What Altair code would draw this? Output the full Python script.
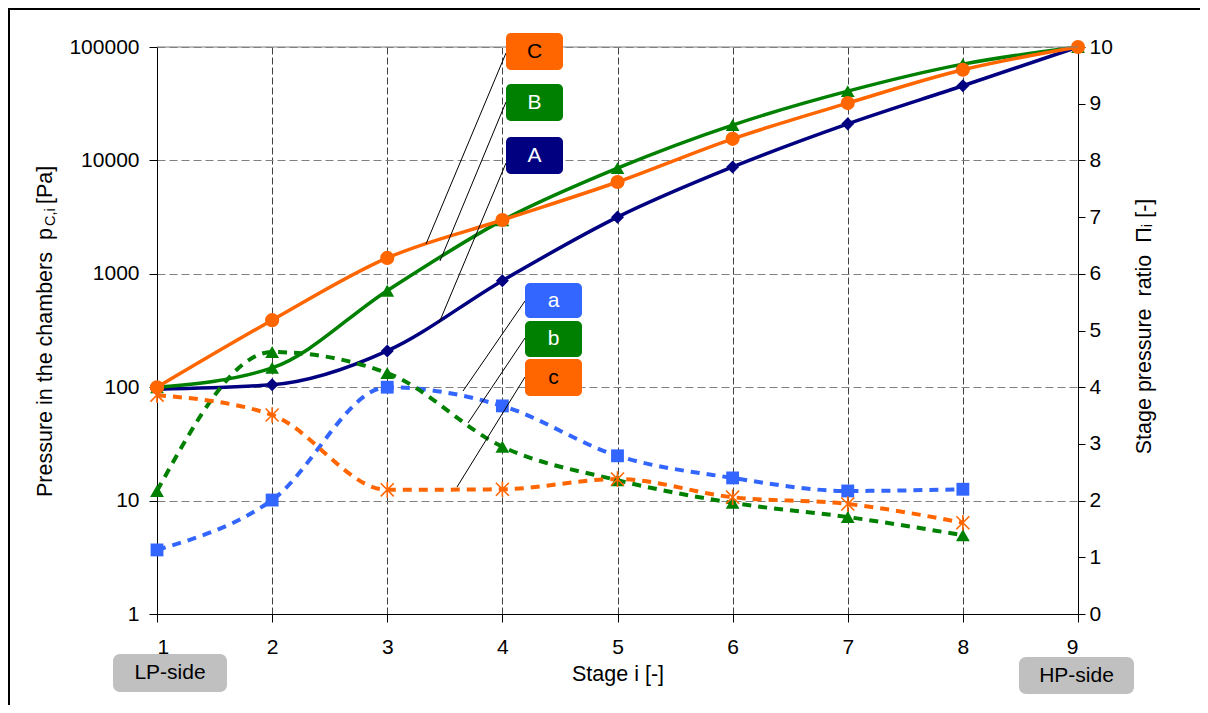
import altair as alt
import pandas as pd

# ---------------- data ----------------
stages = [1, 2, 3, 4, 5, 6, 7, 8, 9]
pressure_A = [96, 105, 209, 870, 3160, 8750, 21000, 45500, 100000]
pressure_B = [100, 148, 710, 2960, 8550, 20500, 40800, 70600, 100000]
pressure_C = [100, 390, 1380, 2980, 6450, 15500, 32000, 63000, 100000]

ratio_stages = [1, 2, 3, 4, 5, 6, 7, 8]
ratio_a = [1.13, 2.01, 4.00, 3.67, 2.79, 2.40, 2.17, 2.20]
ratio_b = [2.17, 4.62, 4.25, 2.95, 2.36, 1.96, 1.71, 1.39]
ratio_c = [3.86, 3.51, 2.19, 2.20, 2.38, 2.06, 1.94, 1.61]

left_ticks = [1, 10, 100, 1000, 10000, 100000]
right_ticks = [0, 1, 2, 3, 4, 5, 6, 7, 8, 9, 10]

# ---------------- styles / layout ----------------
NAVY, GREEN, ORANGE, BLUE, GREY = "#000080", "#008000", "#FF6600", "#3366FF", "#C0C0C0"
FONT = "Liberation Sans"
FS = 21
TFS = 21.5
NB = "\u00a0"
W, H = 921, 567
PAD_L, PAD_T = 149, 39
PAD_R = 1192 - PAD_L - W
PAD_B = 697 - PAD_T - H

ASTERISK = "M-1,-1L1,1M-1,1L1,-1M0,-1.2L0,1.2"

x_enc = alt.X(
    "stage:Q",
    scale=alt.Scale(domain=[1, 9], nice=False, zero=False),
    axis=alt.Axis(values=stages, format="d", title="Stage i [-]", grid=True,
                  gridColor="#404040", gridDash=[7, 3], gridWidth=1,
                  tickSize=8, labelPadding=14, titleY=66, titleBaseline="alphabetic",
                  titleFontSize=TFS),
)
y_left = alt.Y(
    "value:Q",
    scale=alt.Scale(type="log", domain=[1, 100000], nice=False),
    axis=alt.Axis(orient="left", values=left_ticks, format="d", title=None, grid=True,
                  gridColor="#808080", gridDash=[8, 4], gridWidth=1,
                  tickSize=8, labelPadding=10),
)
y_right = alt.Y(
    "value:Q",
    scale=alt.Scale(domain=[0, 10], nice=False, zero=True),
    axis=alt.Axis(orient="right", values=right_ticks, format="d", grid=False,
                  title=f"Stage pressure{NB}{NB}ratio{NB}{NB}Πᵢ [-]", titleAngle=270,
                  titleX=66, titleY=279, titleAlign="center", titleBaseline="middle",
                  titleFontSize=TFS, tickSize=7, labelPadding=4),
)

def frame(xs, ys):
    return pd.DataFrame({"stage": xs, "value": ys})

solid = [("A", pressure_A, NAVY, "diamond", 170),
         ("B", pressure_B, GREEN, "triangle-up", 190),
         ("C", pressure_C, ORANGE, "circle", 200)]
dashed = [("a", ratio_a, BLUE, "square", 165, True),
          ("b", ratio_b, GREEN, "triangle-up", 190, True),
          ("c", ratio_c, ORANGE, ASTERISK, 170, False)]

solid_layers = []
for name, vals, col, shp, sz in solid:
    base = alt.Chart(frame(stages, vals)).encode(x=x_enc, y=y_left)
    solid_layers.append(base.mark_line(color=col, strokeWidth=3.5, interpolate="monotone"))
for name, vals, col, shp, sz in solid:
    base = alt.Chart(frame(stages, vals)).encode(x=x_enc, y=y_left)
    solid_layers.append(base.mark_point(shape=shp, size=sz, filled=True, color=col, opacity=1))

dashed_layers = []
for name, vals, col, shp, sz, filled in dashed:
    base = alt.Chart(frame(ratio_stages, vals)).encode(x=x_enc, y=y_right)
    dashed_layers.append(base.mark_line(color=col, strokeWidth=4, strokeDash=[9, 7],
                                        interpolate="monotone"))
for name, vals, col, shp, sz, filled in dashed:
    base = alt.Chart(frame(ratio_stages, vals)).encode(x=x_enc, y=y_right)
    if filled:
        dashed_layers.append(base.mark_point(shape=shp, size=sz, filled=True, color=col, opacity=1))
    else:
        dashed_layers.append(base.mark_point(shape=shp, size=sz, filled=False, color=col,
                                             strokeWidth=1.6, opacity=1))

# ---------------- annotations (pixel positions in plot area) ----------------
one = pd.DataFrame({"k": [0]})

def rule(x1, y1, x2, y2, color="black", width=1):
    return alt.Chart(one).mark_rule(color=color, strokeWidth=width).encode(
        x=alt.value(x1), y=alt.value(y1), x2=alt.value(x2), y2=alt.value(y2))

def bar(x1, y1, x2, y2, fill):
    return alt.Chart(one).mark_rect(fill=fill).encode(
        x=alt.value(x1), x2=alt.value(x2), y=alt.value(y1), y2=alt.value(y2))

def box(x1, y1, x2, y2, fill, label, tcolor, radius=5):
    r = alt.Chart(one).mark_rect(fill=fill, cornerRadius=radius).encode(
        x=alt.value(x1), x2=alt.value(x2), y=alt.value(y1), y2=alt.value(y2))
    t = alt.Chart(one).mark_text(text=label, color=tcolor, fontSize=FS, font=FONT,
                                 align="center", baseline="middle").encode(
        x=alt.value((x1 + x2) / 2), y=alt.value((y1 + y2) / 2))
    return [r, t]

def vtext(label, x, y, size):
    return alt.Chart(one).mark_text(text=label, angle=270, align="left", baseline="middle",
                                    fontSize=size, font=FONT, color="black").encode(
        x=alt.value(x), y=alt.value(y))

annotations = []
# top plot border (solid grey) and figure frame (left and top edges)
annotations.append(bar(0, -0.5, W, 0.5, "#808080"))
annotations.append(bar(-PAD_L, -PAD_T, W + PAD_R + 30, -PAD_T + 2, "black"))
annotations.append(bar(-PAD_L, -PAD_T, -PAD_L + 2, H + PAD_B, "black"))

# leader lines
annotations += [rule(349, 6, 269, 197), rule(349, 55, 283, 214), rule(349, 116, 282, 276),
                rule(368, 254, 306, 344), rule(368, 291, 311, 376), rule(368, 330, 300, 440)]
# label boxes
annotations += box(349, -14, 406, 23, ORANGE, "C", "black")
annotations += box(349, 37, 406, 74, GREEN, "B", "white")
annotations += box(349, 90, 406, 127, NAVY, "A", "white")
annotations += box(368, 236, 425, 271, BLUE, "a", "white")
annotations += box(368, 274, 425, 310, GREEN, "b", "white")
annotations += box(368, 312, 425, 349, ORANGE, "c", "black")
annotations += box(-44, 607, 70, 645, GREY, "LP-side", "black", radius=7)
annotations += box(862, 610, 977, 647, GREY, "HP-side", "black", radius=7)

# left axis title with subscript
annotations.append(vtext(f"Pressure in the chambers{NB}{NB}p", -111.5, 450, TFS))
annotations.append(vtext("C,i", -106, 179, 14.5))
annotations.append(vtext("[Pa]", -111.5, 157, TFS))

chart = alt.layer(
    alt.layer(*solid_layers),
    alt.layer(*dashed_layers),
    *annotations,
).resolve_scale(y="independent").properties(
    width=W, height=H,
    padding={"left": PAD_L, "top": PAD_T, "right": PAD_R, "bottom": PAD_B},
    autosize=alt.AutoSizeParams(type="none"),
    background="white",
).configure_axis(
    labelFont=FONT, titleFont=FONT, labelFontSize=FS, titleFontSize=FS,
    titleFontWeight="normal", labelColor="black", titleColor="black",
    domainColor="black", tickColor="black", domainWidth=1, tickWidth=1,
).configure_view(stroke=None)

chart.save("out.html", embed_options={"renderer": "svg", "actions": False})
